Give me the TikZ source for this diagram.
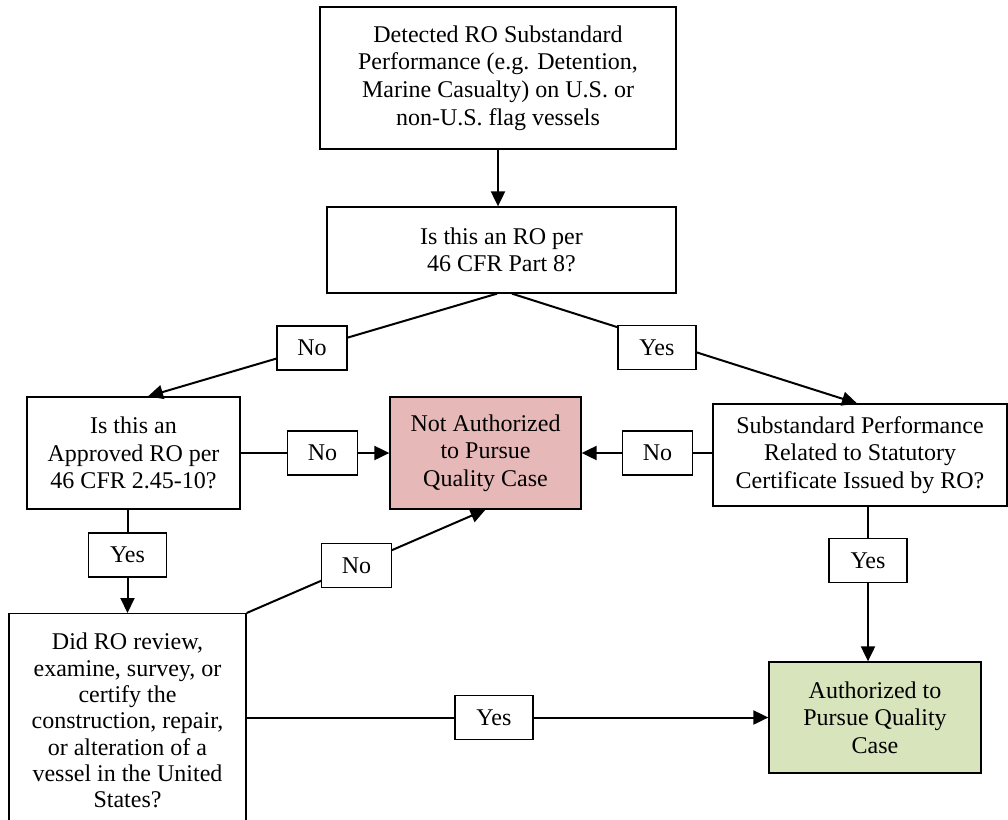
\documentclass[tikz,border=0pt]{standalone}
\usepackage{fontspec}
\setmainfont{Liberation Serif}
\usetikzlibrary{arrows.meta,calc}
\definecolor{napink}{HTML}{E6B8B7}
\definecolor{augreen}{HTML}{D8E4BC}
\begin{document}
\begin{tikzpicture}[x=1pt,y=-1pt,
  box/.style={draw=black, line width=1.3pt, align=center, inner sep=0pt,
    font=\fontsize{24}{27.6}\selectfont},
  lblno/.style={draw=black, fill=white, line width=1.3pt, inner sep=0pt,
    font=\fontsize{24}{27.6}\selectfont, minimum height=44pt, minimum width=70pt},
  lblyes/.style={lblno, minimum width=78pt},
  conn/.style={line width=2pt, black},
  arr/.style={conn, -{Triangle[length=15pt,width=14pt]}}]
\useasboundingbox (0,0) rectangle (1008,819);

\node[box, minimum width=356pt, minimum height=142pt] (top) at (498,78)
  {Detected RO Substandard\\Performance (e.g. Detention,\\Marine Casualty) on U.S. or\\non-U.S. flag vessels};
\node[box, minimum width=349pt, minimum height=86pt] (q1) at (501.5,250)
  {Is this an RO per\\46 CFR Part 8?};
\node[box, minimum width=213pt, minimum height=112pt] (q2) at (133.5,453)
  {Is this an\\Approved RO per\\46 CFR 2.45-10?};
\node[box, fill=napink, minimum width=191pt, minimum height=112pt] (na) at (485.5,453)
  {Not Authorized\\to Pursue\\Quality Case};
\node[box, minimum width=294pt, minimum height=102pt] (q3) at (860,455)
  {Substandard Performance\\Related to Statutory\\Certificate Issued by RO?};
\node[box, minimum width=237pt, minimum height=214pt, anchor=north,
  font=\fontsize{24}{26.3}\selectfont] (q4) at (127.5,613)
  {Did RO review,\\examine, survey, or\\certify the\\construction, repair,\\or alteration of a\\vessel in the United\\States?};
\node[box, fill=augreen, minimum width=212pt, minimum height=111pt] (auth) at (875,717.5)
  {Authorized to\\Pursue Quality\\Case};

\draw[arr] (top.south) -- (top.south |- q1.north);
\draw[arr] ([xshift=-4.5pt]q1.south) -- node[lblno, pos=0.53] (n1) {No} ([xshift=14.5pt]q2.north);
\draw[arr] ([xshift=10.5pt]q1.south) -- node[lblyes, pos=0.42, yshift=-8pt] (y1) {Yes} ([xshift=-3pt]q3.north);
\draw[arr] (q2) -- node[lblno, pos=0.55] (n2) {No} (na);
\draw[arr] (na.east -| q3.west) -- node[lblno, pos=0.42] (n3) {No} (na.east);
\draw[arr] (q2.south -| q4.north) -- node[lblyes, pos=0.44] (y2) {Yes} (q4.north);
\draw[arr] (q4.north east) -- node[lblno, pos=0.46] (n4) {No} (na.south);
\draw[arr] ([xshift=8pt]q3.south) -- node[lblyes, pos=0.35] (y3) {Yes} ([xshift=8pt]q3.south |- auth.north);
\draw[arr] (q4.east |- auth.west) -- node[lblyes, pos=0.474] (y4) {Yes} (auth.west);
\end{tikzpicture}
\end{document}
